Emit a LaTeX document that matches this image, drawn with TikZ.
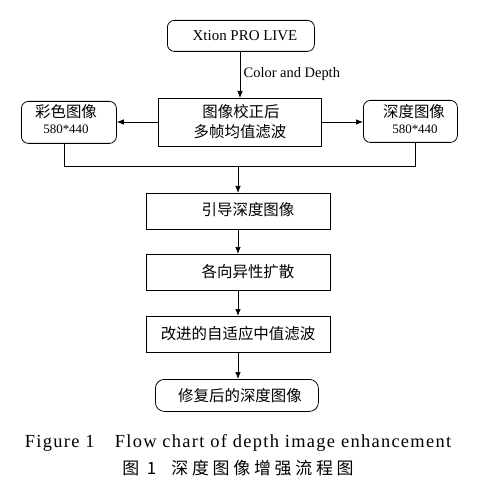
\documentclass[tikz,border=0pt]{standalone}
\usepackage{fontspec}
\setmainfont{Liberation Serif}
\newfontfamily\cjk{Noto Sans CJK SC}
\newfontfamily\capfont[LetterSpace=7]{Liberation Serif}
\newfontfamily\capcjk[LetterSpace=22]{Noto Sans CJK SC}
\usetikzlibrary{arrows.meta}
\begin{document}
\begin{tikzpicture}[x=1bp,y=-1bp,
  box/.style={draw,line width=0.8bp,inner sep=0pt,anchor=north west},
  rbox/.style={box,rounded corners=7bp},
  arr/.style={-{Latex[length=7bp,width=5.5bp]},line width=0.7bp},
  ln/.style={line width=0.7bp},
  cn/.style={font=\cjk\fontsize{15.5}{18}\selectfont},
  sm/.style={font=\fontsize{13}{14}\selectfont}]
\useasboundingbox (0,0) rectangle (484,494);
\node[rbox,minimum width=147bp,minimum height=31bp] (xt) at (167,20) {};
\node[font=\fontsize{15}{16}\selectfont] (xtt) at (245,36) {Xtion PRO LIVE};
\node[box,minimum width=163bp,minimum height=48bp] (c) at (158,98) {};
\node[cn] (c1) at (241,112) {图像校正后};
\node[cn] (c2) at (240,132) {多帧均值滤波};
\coordinate (xb) at (240,51);
\draw[arr] (xb) -- node[right,font=\fontsize{14.5}{16}\selectfont,xshift=0bp] (lab) {Color and Depth} (xb |- c.north);
\node[rbox,minimum width=95bp,minimum height=42bp] (l) at (21,101) {};
\node[cn] (l1) at (66,112) {彩色图像};
\node[sm] (l2) at (66,129) {580*440};
\node[rbox,minimum width=94bp,minimum height=42bp] (r) at (363,100) {};
\node[cn] (r1) at (414,112) {深度图像};
\node[sm] (r2) at (415,129) {580*440};
\coordinate (cl) at (158,122);
\coordinate (cr) at (321,122);
\draw[arr] (cl) -- (cl -| l.east);
\draw[arr] (cr) -- (cr -| r.west);
\coordinate (jl) at (64,166);
\coordinate (jr) at (415,166);
\coordinate (jm) at (238,166);
\draw[ln] (l.south -| jl) -- (jl) -- (jr) -- (r.south -| jr);
\node[box,minimum width=184bp,minimum height=36bp] (g) at (146,193) {};
\node[cn] (gt) at (248,210) {引导深度图像};
\draw[arr] (jm) -- (jm |- g.north);
\node[box,minimum width=184bp,minimum height=36bp] (a) at (146,254) {};
\node[cn] (at) at (248,272) {各向异性扩散};
\draw[arr] (jm |- g.south) -- (jm |- a.north);
\node[box,line width=1.3bp,minimum width=184bp,minimum height=36bp] (m) at (146,316) {};
\node[cn] (mt) at (238,334) {改进的自适应中值滤波};
\draw[arr] (jm |- a.south) -- (jm |- m.north);
\node[rbox,minimum width=163bp,minimum height=32bp,rounded corners=9bp] (f) at (155,379) {};
\node[cn] (ft) at (240,396) {修复后的深度图像};
\draw[arr] (jm |- m.south) -- (jm |- f.north);
\node[font=\capfont\fontsize{18.5}{20}\selectfont] (cap1) at (238,443) {Figure 1\hspace{1.1em}Flow chart of depth image enhancement};
\node[font=\capcjk\fontsize{17}{18}\selectfont] (cap2) at (238,468) {图 1\hspace{0.9em}深度图像增强流程图};
\end{tikzpicture}
\end{document}
